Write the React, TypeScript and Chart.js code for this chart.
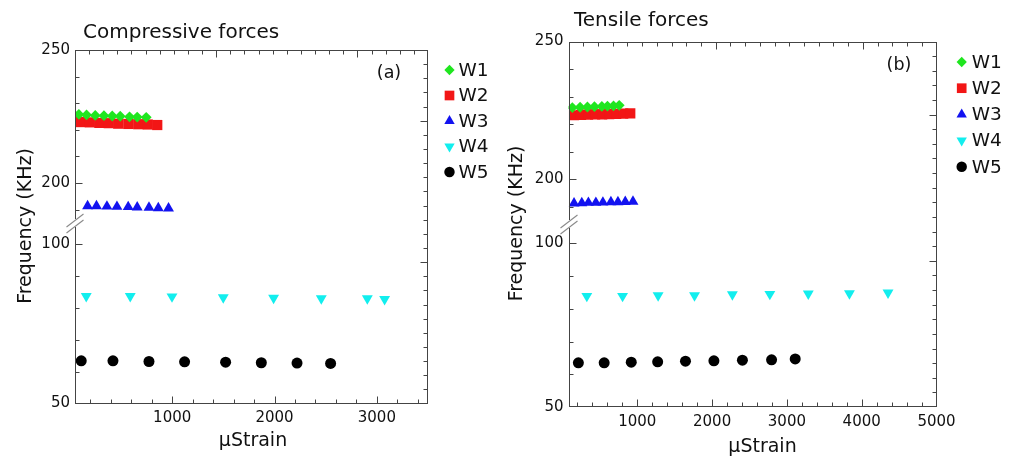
import React, { useEffect, useRef } from 'react';
import { Chart, registerables } from 'chart.js';
import { drawPoint } from 'chart.js/helpers';

Chart.register(...registerables);

const FONT = '"DejaVu Sans", "Noto Sans", sans-serif';
Chart.defaults.font.family = FONT;

const seriesNames = ['W1', 'W2', 'W3', 'W4', 'W5'];

// (a) Compressive forces : strain (µStrain) and frequency (kHz)
const compW1Strain = [88, 163, 248, 333, 414, 492, 583, 658, 746];
const compW1Freq = [225.8, 225.6, 225.4, 225.3, 225.2, 225.1, 224.9, 224.8, 224.7];
const compW2Strain = [101, 195, 288, 380, 473, 571, 668, 761, 854];
const compW2Freq = [222.9, 222.8, 222.6, 222.5, 222.3, 222.2, 222.1, 222.0, 221.8];
const compW3Strain = [173, 260, 362, 460, 570, 658, 773, 864, 964];
const compW3Freq = [191.3, 191.3, 191.2, 191.1, 191.0, 190.9, 190.8, 190.6, 190.5];
const compW4Strain = [160, 590, 998, 1499, 1991, 2457, 2907, 3076];
const compW4Freq = [83.7, 83.7, 83.6, 83.3, 83.2, 83.0, 83.0, 82.8];
const compW5Strain = [111, 421, 773, 1121, 1522, 1871, 2220, 2548];
const compW5Freq = [63.4, 63.4, 63.2, 63.1, 63.0, 62.8, 62.7, 62.6];

// (b) Tensile forces
const tensW1Strain = [131, 235, 333, 427, 526, 601, 682, 758];
const tensW1Freq = [226.0, 226.1, 226.2, 226.3, 226.4, 226.5, 226.6, 226.8];
const tensW2Strain = [154, 248, 342, 436, 530, 624, 718, 812, 906];
const tensW2Freq = [223.2, 223.3, 223.4, 223.5, 223.5, 223.6, 223.7, 223.8, 223.9];
const tensW3Strain = [154, 258, 346, 446, 540, 647, 741, 839, 942];
const tensW3Freq = [191.2, 191.3, 191.4, 191.4, 191.5, 191.6, 191.6, 191.7, 191.8];
const tensW4Strain = [325, 803, 1278, 1765, 2271, 2772, 3286, 3836, 4352];
const tensW4Freq = [83.9, 83.9, 84.1, 84.1, 84.4, 84.5, 84.6, 84.7, 84.9];
const tensW5Strain = [212, 557, 919, 1272, 1644, 2024, 2405, 2795, 3111];
const tensW5Freq = [63.5, 63.5, 63.7, 63.8, 64.0, 64.1, 64.3, 64.4, 64.7];

const compXTicks = [1000, 2000, 3000];
const tensXTicks = [1000, 2000, 3000, 4000, 5000];
const upperYTicks = [200, 250];
const lowerYTicks = [50, 100];

const COLORS = ['#1fe61f', '#f21616', '#1212f0', '#12eeee', '#000000'];
const MARKERS = [
  { style: 'rectRot', radius: 5.4, rotation: 0 },
  { style: 'rect', radius: 7.2, rotation: 0 },
  { style: 'triangle', radius: 6.3, rotation: 0 },
  { style: 'triangle', radius: 6.3, rotation: 180 },
  { style: 'circle', radius: 5.5, rotation: 0 },
];

const decorPlugin = {
  id: 'decor',
  afterDraw(chart: any, _args: any, o: any) {
    const { ctx, chartArea: ca, scales } = chart;
    const L = Math.round(ca.left) + 0.5;
    const R = Math.round(ca.right) - 0.5;
    const T = Math.round(ca.top) + 0.5;
    const B = Math.round(ca.bottom) - 0.5;
    ctx.save();
    ctx.strokeStyle = '#444';
    ctx.lineWidth = 1;
    const line = (x1: number, y1: number, x2: number, y2: number) => {
      ctx.beginPath();
      ctx.moveTo(x1, y1);
      ctx.lineTo(x2, y2);
      ctx.stroke();
    };
    // frame
    ctx.strokeRect(L, T, R - L, B - T);
    // bottom ticks
    const sx = scales.x;
    for (let v = o.xMinorStep; v < sx.max; v += o.xMinorStep) {
      if (v <= sx.min) continue;
      const px = Math.round(sx.getPixelForValue(v)) + 0.5;
      line(px, B, px, B - (v % o.xMajorStep === 0 ? 7 : 4));
    }
    // top & right mirror ticks
    const tx = scales.x2;
    const ry = scales.y2;
    for (let v = 1; v < 25; v++) {
      const len = v % 10 === 0 ? 7 : 4;
      const px = Math.round(tx.getPixelForValue(v)) + 0.5;
      line(px, T, px, T + len);
      const py = Math.round(ry.getPixelForValue(v)) + 0.5;
      line(R, py, R - len, py);
    }
    // left ticks
    const drawLeft = (scale: any, vals: number[], majors: number[]) => {
      vals.forEach((v) => {
        const py = Math.round(scale.getPixelForValue(v)) + 0.5;
        line(L, py, L + (majors.includes(v) ? 7 : 4), py);
      });
    };
    drawLeft(scales.yTop, [190, 200, 210, 220, 230, 240], upperYTicks);
    drawLeft(scales.yBot, [60, 70, 80, 90, 100], lowerYTicks);
    // axis break
    const yb = scales.yTop.bottom;
    ctx.fillStyle = '#ffffff';
    ctx.fillRect(L - 1.5, yb - 5, 3, 8);
    ctx.strokeStyle = '#8a8a8a';
    ctx.lineWidth = 1.1;
    line(L - 9, yb + 3, L + 8, yb - 10);
    line(L - 9, yb + 9, L + 8, yb - 4);

    // texts
    ctx.fillStyle = '#111';
    ctx.font = `20px ${FONT}`;
    ctx.textAlign = 'left';
    ctx.textBaseline = 'alphabetic';
    ctx.fillText(o.title, o.titleX, o.titleY);

    ctx.font = `17.5px ${FONT}`;
    ctx.textAlign = 'center';
    ctx.textBaseline = 'middle';
    ctx.fillText(o.label, o.labelX, o.labelY);

    ctx.font = `19px ${FONT}`;
    ctx.fillText('μStrain', o.xTitleX, o.xTitleY);
    ctx.save();
    ctx.translate(o.yTitleX, o.yTitleY);
    ctx.rotate(-Math.PI / 2);
    ctx.fillText('Frequency (KHz)', 0, 0);
    ctx.restore();

    // legend
    chart.data.datasets.forEach((ds: any, i: number) => {
      const y = o.legendY + i * o.legendStep;
      ctx.fillStyle = ds.backgroundColor;
      drawPoint(ctx, { pointStyle: ds.pointStyle, radius: ds.pointRadius * 0.95, rotation: ds.pointRotation, borderWidth: 0 } as any, o.legendMarkerX, y);
      ctx.fillStyle = '#111';
      ctx.font = `18.5px ${FONT}`;
      ctx.textAlign = 'left';
      ctx.textBaseline = 'middle';
      ctx.fillText(ds.label, o.legendTextX, y + 1);
    });
    ctx.restore();
  },
};

type Panel = {
  strains: number[][];
  freqs: number[][];
  xTicks: number[];
  xMin: number;
  xMax: number;
  upperMin: number;
  lowerMax: number;
  width: number;
  height: number;
  areaLeft: number;
  areaRight: number;
  areaTop: number;
  areaBottom: number;
  breakY: number;
  decor: any;
};

const panelA: Panel = {
  strains: [compW1Strain, compW2Strain, compW3Strain, compW4Strain, compW5Strain],
  freqs: [compW1Freq, compW2Freq, compW3Freq, compW4Freq, compW5Freq],
  xTicks: compXTicks,
  xMin: 50,
  xMax: 3500,
  upperMin: 184.6,
  lowerMax: 106.4,
  width: 505,
  height: 459,
  areaLeft: 75,
  areaRight: 428,
  areaTop: 50,
  areaBottom: 403.5,
  breakY: 224,
  decor: {
    xMinorStep: 200, xMajorStep: 1000,
    title: 'Compressive forces', titleX: 83, titleY: 37.5,
    label: '(a)', labelX: 389, labelY: 73,
    xTitleX: 253, xTitleY: 441, yTitleX: 26, yTitleY: 226,
    legendMarkerX: 449.5, legendTextX: 458.5, legendY: 70, legendStep: 25.5,
  },
};

const panelB: Panel = {
  strains: [tensW1Strain, tensW2Strain, tensW3Strain, tensW4Strain, tensW5Strain],
  freqs: [tensW1Freq, tensW2Freq, tensW3Freq, tensW4Freq, tensW5Freq],
  xTicks: tensXTicks,
  xMin: 80,
  xMax: 5000,
  upperMin: 183.3,
  lowerMax: 105.6,
  width: 510,
  height: 459,
  areaLeft: 63.5,
  areaRight: 431.5,
  areaTop: 41.5,
  areaBottom: 407,
  breakY: 225,
  decor: {
    xMinorStep: 200, xMajorStep: 1000,
    title: 'Tensile forces', titleX: 69, titleY: 26,
    label: '(b)', labelX: 394, labelY: 65,
    xTitleX: 257.5, xTitleY: 447.5, yTitleX: 12, yTitleY: 223.5,
    legendMarkerX: 456.7, legendTextX: 466.7, legendY: 62, legendStep: 26.2,
  },
};

const tickFont = { family: FONT, size: 15 };
const noGrid = { display: false, drawTicks: false };

function buildChart(canvas: HTMLCanvasElement, p: Panel) {
  const topH = p.breakY - p.areaTop;
  const botH = p.areaBottom - p.breakY;
  return new Chart(canvas, {
    type: 'scatter',
    data: {
      datasets: seriesNames.map((name, i) => ({
        label: name,
        data: p.strains[i].map((x, j) => ({ x, y: p.freqs[i][j] })),
        xAxisID: 'x',
        yAxisID: i < 3 ? 'yTop' : 'yBot',
        backgroundColor: COLORS[i],
        borderColor: COLORS[i],
        pointStyle: MARKERS[i].style as any,
        pointRadius: MARKERS[i].radius,
        pointHoverRadius: MARKERS[i].radius,
        pointRotation: MARKERS[i].rotation,
        pointBorderWidth: 0,
        showLine: false,
      })),
    },
    options: {
      responsive: false,
      animation: false,
      devicePixelRatio: 1,
      events: [],
      layout: { padding: 0 },
      plugins: {
        legend: { display: false },
        tooltip: { enabled: false },
        title: { display: false },
        decor: p.decor,
      } as any,
      scales: {
        x: {
          type: 'linear',
          axis: 'x',
          position: 'bottom',
          min: p.xMin,
          max: p.xMax,
          grid: noGrid,
          border: { display: false },
          ticks: { font: tickFont, color: '#111', padding: 6, autoSkip: false, maxRotation: 0, callback: (v: any) => String(v) },
          afterBuildTicks: (s: any) => { s.ticks = p.xTicks.map((v) => ({ value: v })); },
          afterFit: (s: any) => { s.height = p.height - p.areaBottom; },
        },
        x2: {
          type: 'linear',
          axis: 'x',
          position: 'top',
          min: 0,
          max: 25,
          grid: noGrid,
          border: { display: false },
          ticks: { display: false },
          afterFit: (s: any) => { s.height = p.areaTop; },
        },
        yBot: {
          type: 'linear',
          axis: 'y',
          position: 'left',
          stack: 'left',
          stackWeight: botH,
          min: 50,
          max: p.lowerMax,
          grid: noGrid,
          border: { display: false },
          ticks: { font: tickFont, color: '#111', padding: 5, autoSkip: false, callback: (v: any) => String(v) },
          afterBuildTicks: (s: any) => { s.ticks = lowerYTicks.map((v) => ({ value: v })); },
          afterFit: (s: any) => { s.width = p.areaLeft; },
        },
        yTop: {
          type: 'linear',
          axis: 'y',
          position: 'left',
          stack: 'left',
          stackWeight: topH,
          min: p.upperMin,
          max: 250,
          grid: noGrid,
          border: { display: false },
          ticks: { font: tickFont, color: '#111', padding: 5, autoSkip: false, callback: (v: any) => String(v) },
          afterBuildTicks: (s: any) => { s.ticks = upperYTicks.map((v) => ({ value: v })); },
          afterFit: (s: any) => { s.width = p.areaLeft; },
        },
        y2: {
          type: 'linear',
          axis: 'y',
          position: 'right',
          min: 0,
          max: 25,
          grid: noGrid,
          border: { display: false },
          ticks: { display: false },
          afterFit: (s: any) => { s.width = p.width - p.areaRight; },
        },
      } as any,
    },
    plugins: [decorPlugin as any],
  });
}

function PanelChart({ panel, left }: { panel: Panel; left: number }) {
  const ref = useRef<HTMLCanvasElement | null>(null);
  useEffect(() => {
    if (!ref.current) return;
    const chart = buildChart(ref.current, panel);
    return () => chart.destroy();
  }, [panel]);
  return (
    <canvas
      ref={ref}
      width={panel.width}
      height={panel.height}
      style={{ position: 'absolute', left, top: 0, width: panel.width, height: panel.height }}
    />
  );
}

export default function App() {
  return (
    <div style={{ position: 'absolute', left: 0, top: 0, width: 1015, height: 459, background: '#fff' }}>
      <PanelChart panel={panelA} left={0} />
      <PanelChart panel={panelB} left={505} />
    </div>
  );
}
